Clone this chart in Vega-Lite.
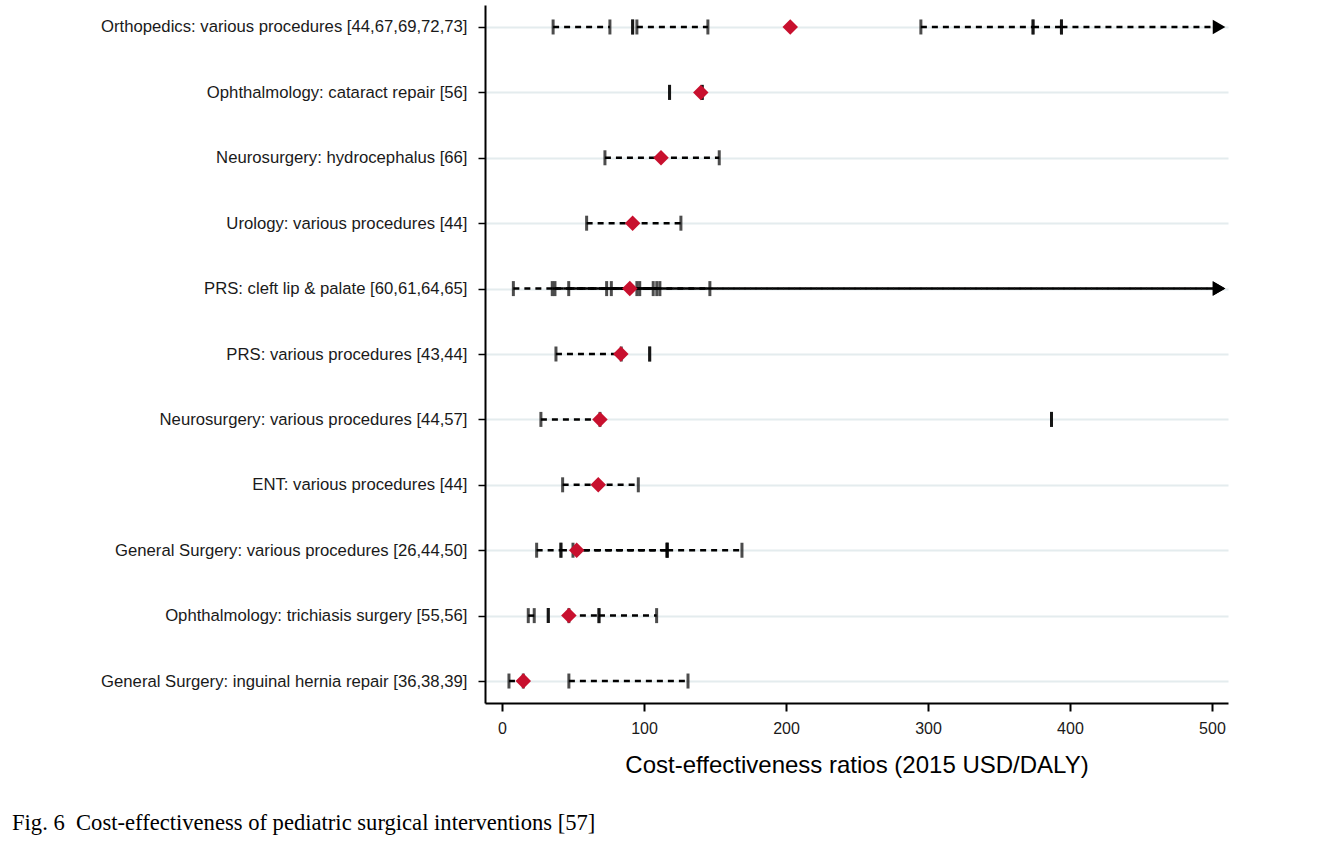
{
  "$schema": "https://vega.github.io/schema/vega-lite/v6.json",
  "width": 743,
  "height": 698,
  "autosize": {"type": "none"},
  "padding": {"left": 485, "top": 5, "right": 94, "bottom": 154},
  "background": "white",
  "config": {"view": {"stroke": null}, "font": "Liberation Sans"},
  "title": {
    "text": "Fig. 6\u00a0\u00a0Cost-effectiveness of pediatric surgical interventions [57]",
    "orient": "bottom",
    "anchor": "start",
    "frame": "group",
    "dx": -473,
    "offset": 35,
    "font": "Liberation Serif",
    "fontSize": 22.6,
    "fontWeight": "normal",
    "color": "#000000"
  },
  "datasets": {
    "ranges": [
      {"proc": "Orthopedics: various procedures [44,67,69,72,73]", "lo": 36, "hi": 76, "open": false},
      {"proc": "Orthopedics: various procedures [44,67,69,72,73]", "lo": 92, "hi": 92, "open": false},
      {"proc": "Orthopedics: various procedures [44,67,69,72,73]", "lo": 95, "hi": 145, "open": false},
      {"proc": "Orthopedics: various procedures [44,67,69,72,73]", "lo": 295, "hi": 374, "open": false},
      {"proc": "Orthopedics: various procedures [44,67,69,72,73]", "lo": 374, "hi": 394, "open": false},
      {"proc": "Orthopedics: various procedures [44,67,69,72,73]", "lo": 394, "hi": 505, "open": true},
      {"proc": "Ophthalmology: cataract repair [56]", "lo": 118, "hi": 118, "open": false},
      {"proc": "Ophthalmology: cataract repair [56]", "lo": 141, "hi": 141, "open": false},
      {"proc": "Neurosurgery: hydrocephalus [66]", "lo": 72.5, "hi": 153, "open": false},
      {"proc": "Urology: various procedures [44]", "lo": 59.6, "hi": 126, "open": false},
      {"proc": "PRS: cleft lip & palate [60,61,64,65]", "lo": 8, "hi": 106.5, "open": false},
      {"proc": "PRS: cleft lip & palate [60,61,64,65]", "lo": 35.4, "hi": 505, "open": true},
      {"proc": "PRS: cleft lip & palate [60,61,64,65]", "lo": 47, "hi": 505, "open": true},
      {"proc": "PRS: cleft lip & palate [60,61,64,65]", "lo": 37.3, "hi": 109, "open": false},
      {"proc": "PRS: cleft lip & palate [60,61,64,65]", "lo": 73.7, "hi": 111.2, "open": false},
      {"proc": "PRS: cleft lip & palate [60,61,64,65]", "lo": 77, "hi": 146.4, "open": false},
      {"proc": "PRS: cleft lip & palate [60,61,64,65]", "lo": 95, "hi": 97, "open": false},
      {"proc": "PRS: various procedures [43,44]", "lo": 38, "hi": 84, "open": false},
      {"proc": "PRS: various procedures [43,44]", "lo": 104, "hi": 104, "open": false},
      {"proc": "Neurosurgery: various procedures [44,57]", "lo": 27.4, "hi": 69, "open": false},
      {"proc": "Neurosurgery: various procedures [44,57]", "lo": 387, "hi": 387, "open": false},
      {"proc": "ENT: various procedures [44]", "lo": 42.7, "hi": 96, "open": false},
      {"proc": "General Surgery: various procedures [26,44,50]", "lo": 24.4, "hi": 41.5, "open": false},
      {"proc": "General Surgery: various procedures [26,44,50]", "lo": 41.5, "hi": 116.3, "open": false},
      {"proc": "General Surgery: various procedures [26,44,50]", "lo": 50, "hi": 116.3, "open": false},
      {"proc": "General Surgery: various procedures [26,44,50]", "lo": 116.3, "hi": 169, "open": false},
      {"proc": "Ophthalmology: trichiasis surgery [55,56]", "lo": 18.5, "hi": 22.7, "open": false},
      {"proc": "Ophthalmology: trichiasis surgery [55,56]", "lo": 32.6, "hi": 32.6, "open": false},
      {"proc": "Ophthalmology: trichiasis surgery [55,56]", "lo": 47.1, "hi": 68.3, "open": false},
      {"proc": "Ophthalmology: trichiasis surgery [55,56]", "lo": 68.3, "hi": 108.9, "open": false},
      {"proc": "General Surgery: inguinal hernia repair [36,38,39]", "lo": 4.9, "hi": 15, "open": false},
      {"proc": "General Surgery: inguinal hernia repair [36,38,39]", "lo": 47.1, "hi": 131, "open": false}
    ],
    "medians": [
      {"proc": "Orthopedics: various procedures [44,67,69,72,73]", "cer": 203},
      {"proc": "Ophthalmology: cataract repair [56]", "cer": 140},
      {"proc": "Neurosurgery: hydrocephalus [66]", "cer": 112},
      {"proc": "Urology: various procedures [44]", "cer": 92},
      {"proc": "PRS: cleft lip & palate [60,61,64,65]", "cer": 90},
      {"proc": "PRS: various procedures [43,44]", "cer": 83.7},
      {"proc": "Neurosurgery: various procedures [44,57]", "cer": 69},
      {"proc": "ENT: various procedures [44]", "cer": 67.8},
      {"proc": "General Surgery: various procedures [26,44,50]", "cer": 52.6},
      {"proc": "Ophthalmology: trichiasis surgery [55,56]", "cer": 47.1},
      {"proc": "General Surgery: inguinal hernia repair [36,38,39]", "cer": 15}
    ]
  },
  "encoding": {
    "y": {
      "field": "proc",
      "type": "nominal",
      "sort": [
        "Orthopedics: various procedures [44,67,69,72,73]",
        "Ophthalmology: cataract repair [56]",
        "Neurosurgery: hydrocephalus [66]",
        "Urology: various procedures [44]",
        "PRS: cleft lip & palate [60,61,64,65]",
        "PRS: various procedures [43,44]",
        "Neurosurgery: various procedures [44,57]",
        "ENT: various procedures [44]",
        "General Surgery: various procedures [26,44,50]",
        "Ophthalmology: trichiasis surgery [55,56]",
        "General Surgery: inguinal hernia repair [36,38,39]"
      ],
      "scale": {"type": "point", "padding": 0.336},
      "axis": {
        "title": null,
        "grid": true,
        "gridColor": "#e4ecee",
        "gridWidth": 2,
        "domainColor": "#000000",
        "domainWidth": 2,
        "tickColor": "#000000",
        "tickWidth": 1.5,
        "tickSize": 7,
        "labelPadding": 11,
        "labelLimit": 600,
        "labelFontSize": 16.7,
        "labelColor": "#1a1a1a",
        "labelFont": "Liberation Sans"
      }
    }
  },
  "layer": [
    {
      "data": {"name": "ranges"},
      "mark": {"type": "rule", "color": "#000000", "strokeWidth": 2.5, "strokeDash": [6, 5]},
      "encoding": {
        "x": {
          "field": "lo",
          "type": "quantitative",
          "scale": {"domain": [-11.97, 511.3], "nice": false, "zero": false},
          "axis": {
            "values": [0, 100, 200, 300, 400, 500],
            "title": "Cost-effectiveness ratios (2015 USD/DALY)",
            "titleFontSize": 24,
            "titleFontWeight": "normal",
            "titleColor": "#000000",
            "titleFont": "Liberation Sans",
            "titlePadding": 17,
            "grid": false,
            "domainColor": "#000000",
            "domainWidth": 2,
            "tickColor": "#000000",
            "tickWidth": 2,
            "tickSize": 8,
            "labelFontSize": 16,
            "labelColor": "#1a1a1a",
            "labelFont": "Liberation Sans",
            "labelPadding": 9
          }
        },
        "x2": {"field": "hi"}
      }
    },
    {
      "data": {"name": "ranges"},
      "transform": [
        {"fold": ["lo", "hi"], "as": ["end", "val"]},
        {"filter": "datum.end == 'lo' || !datum.open"}
      ],
      "mark": {"type": "tick", "color": "#000000", "size": 15, "thickness": 3, "orient": "vertical"},
      "encoding": {
        "x": {"field": "val", "type": "quantitative", "scale": {"domain": [-11.97, 511.3], "nice": false, "zero": false}}
      }
    },
    {
      "data": {"name": "ranges"},
      "transform": [{"filter": "datum.open"}],
      "mark": {"type": "point", "shape": "triangle-right", "filled": true, "size": 210, "color": "#000000", "opacity": 1},
      "encoding": {
        "x": {"field": "hi", "type": "quantitative", "scale": {"domain": [-11.97, 511.3], "nice": false, "zero": false}}
      }
    },
    {
      "data": {"name": "medians"},
      "mark": {"type": "point", "shape": "diamond", "filled": true, "size": 240, "color": "#c8102e", "opacity": 1},
      "encoding": {
        "x": {"field": "cer", "type": "quantitative", "scale": {"domain": [-11.97, 511.3], "nice": false, "zero": false}}
      }
    }
  ]
}
